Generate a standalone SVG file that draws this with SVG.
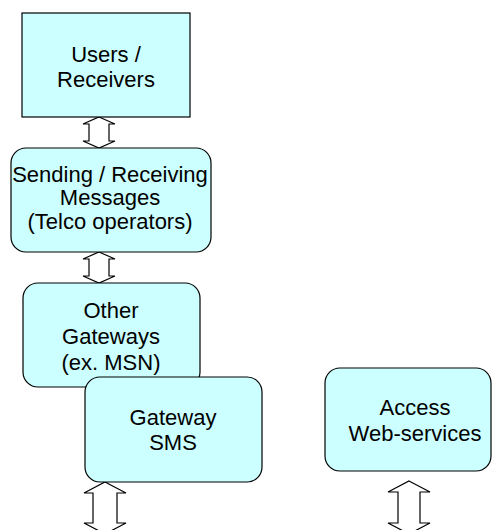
<svg xmlns="http://www.w3.org/2000/svg" width="492" height="530" viewBox="0 0 492 530">
<style>
.box{fill:#ccffff;stroke:#000;stroke-width:1.2}
.arr{fill:#fff;stroke:#000;stroke-width:1.2;stroke-linejoin:miter}
text{font-family:"Liberation Sans",Arial,sans-serif;font-size:22px;fill:#000;text-anchor:middle}
</style>
<rect width="492" height="530" fill="#fff"/>
<g id="connectors">
<path class="arr" d="M99,117 L115,124 L109,124 L109,141 L115,141 L99,148 L83,141 L89,141 L89,124 L83,124 Z"/>
<path class="arr" d="M99,252 L115,259 L109,259 L109,276 L115,276 L99,283 L83,276 L89,276 L89,259 L83,259 Z"/>
<path class="arr" d="M105,482 L126,493 L117,493 L117,523 L126,523 L105,534 L84,523 L93,523 L93,493 L84,493 Z"/>
<path class="arr" d="M409,481 L430,492 L420,492 L420,523 L430,523 L409,534 L388,523 L398,523 L398,492 L388,492 Z"/>
</g>
<g id="users">
<rect class="box" x="22" y="13" width="168" height="104"/>
<text x="106" y="62">Users /</text>
<text x="106" y="87">Receivers</text>
</g>
<g id="sending">
<rect class="box" x="11" y="148" width="200" height="104" rx="15"/>
<text x="110" y="182">Sending / Receiving</text>
<text x="110" y="205">Messages</text>
<text x="110" y="229">(Telco operators)</text>
</g>
<g id="other">
<rect class="box" x="23" y="283" width="177" height="104" rx="15"/>
<text x="111" y="318">Other</text>
<text x="111" y="344">Gateways</text>
<text x="111" y="370">(ex. MSN)</text>
</g>
<g id="sms">
<rect class="box" x="85" y="377" width="177" height="105" rx="15"/>
<text x="173" y="425">Gateway</text>
<text x="173" y="450">SMS</text>
</g>
<g id="access">
<rect class="box" x="325" y="368" width="166" height="103" rx="15"/>
<text x="415" y="415">Access</text>
<text x="415" y="441">Web-services</text>
</g>
</svg>
